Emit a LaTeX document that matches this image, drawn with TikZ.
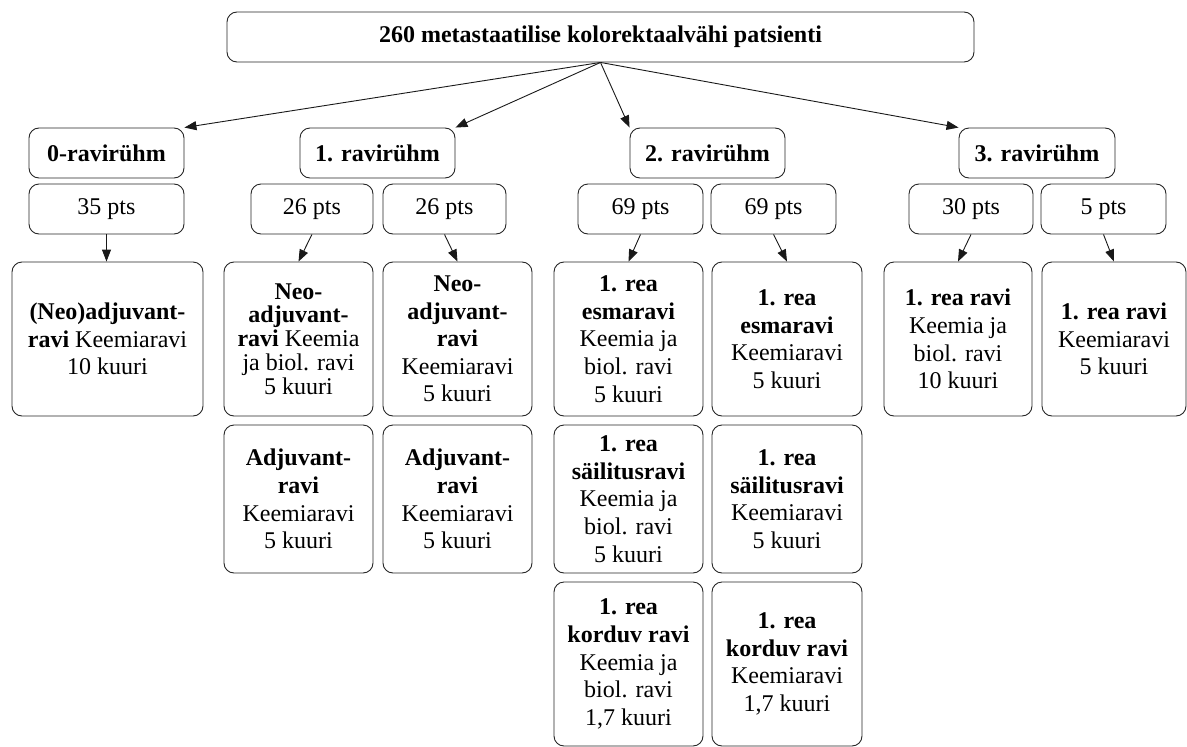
\documentclass[tikz,border=0pt]{standalone}
\usepackage{fontspec}
\setmainfont{Liberation Serif}
\usetikzlibrary{arrows.meta}
\tikzset{
  box/.style={draw=black!85, line width=0.9pt, rounded corners=10pt, align=center,
    inner sep=0pt, font=\fontsize{24}{27.6}\selectfont},
  conn/.style={draw=black!90, line width=0.9pt, -{Triangle[length=12pt,width=9pt]}},
  tight/.style={font=\fontsize{24}{23.8}\selectfont}
}
\begin{document}
\begin{tikzpicture}[x=1pt,y=-1pt]
\useasboundingbox (0,0) rectangle (1187,747);
% top
\node[box, minimum width=747pt, minimum height=50pt] (top) at (600.5,37)
  {\textbf{260 metastaatilise kolorektaalvähi patsienti}};
% groups
\node[box, minimum width=155pt, minimum height=50pt] (g0) at (106.5,153) {\textbf{0-ravirühm}};
\node[box, minimum width=155pt, minimum height=50pt] (g1) at (377.5,153) {\textbf{1. ravirühm}};
\node[box, minimum width=155pt, minimum height=50pt] (g2) at (707.5,153) {\textbf{2. ravirühm}};
\node[box, minimum width=156pt, minimum height=50pt] (g3) at (1037,153) {\textbf{3. ravirühm}};
% patient counts
\node[box, minimum width=155pt, minimum height=50pt] (p0) at (106.5,209) {35 pts};
\node[box, minimum width=122pt, minimum height=50pt] (p1a) at (312,209) {26 pts};
\node[box, minimum width=123pt, minimum height=50pt] (p1b) at (444.5,209) {26 pts};
\node[box, minimum width=125pt, minimum height=50pt] (p2a) at (640.5,209) {69 pts};
\node[box, minimum width=125pt, minimum height=50pt] (p2b) at (773.5,209) {69 pts};
\node[box, minimum width=124pt, minimum height=50pt] (p3a) at (971,209) {30 pts};
\node[box, minimum width=125pt, minimum height=50pt] (p3b) at (1103.5,209) {5 pts};
% row 1
\node[box, minimum width=191pt, minimum height=154pt] (c0) at (107.5,339)
  {\textbf{(Neo)adjuvant-}\\\textbf{ravi} Keemiaravi\\10 kuuri};
\node[box, tight, minimum width=149pt, minimum height=154pt] (c1a) at (298.5,339)
  {\textbf{Neo-}\\\textbf{adjuvant-}\\\textbf{ravi} Keemia\\ja biol. ravi\\5 kuuri};
\node[box, minimum width=149pt, minimum height=154pt] (c1b) at (457.5,339)
  {\textbf{Neo-}\\\textbf{adjuvant-}\\\textbf{ravi}\\Keemiaravi\\5 kuuri};
\node[box, minimum width=149pt, minimum height=154pt] (c2a) at (628.5,339)
  {\textbf{1. rea}\\\textbf{esmaravi}\\Keemia ja\\biol. ravi\\5 kuuri};
\node[box, minimum width=150pt, minimum height=154pt] (c2b) at (787,339)
  {\textbf{1. rea}\\\textbf{esmaravi}\\Keemiaravi\\5 kuuri};
\node[box, minimum width=148pt, minimum height=154pt] (c3a) at (958,339)
  {\textbf{1. rea ravi}\\Keemia ja\\biol. ravi\\10 kuuri};
\node[box, minimum width=144pt, minimum height=154pt] (c3b) at (1114,339)
  {\textbf{1. rea ravi}\\Keemiaravi\\5 kuuri};
% row 2
\node[box, minimum width=149pt, minimum height=148pt] (d1a) at (298.5,499)
  {\textbf{Adjuvant-}\\\textbf{ravi}\\Keemiaravi\\5 kuuri};
\node[box, minimum width=149pt, minimum height=148pt] (d1b) at (457.5,499)
  {\textbf{Adjuvant-}\\\textbf{ravi}\\Keemiaravi\\5 kuuri};
\node[box, minimum width=149pt, minimum height=148pt] (d2a) at (628.5,499)
  {\textbf{1. rea}\\\textbf{säilitusravi}\\Keemia ja\\biol. ravi\\5 kuuri};
\node[box, minimum width=150pt, minimum height=148pt] (d2b) at (787,499)
  {\textbf{1. rea}\\\textbf{säilitusravi}\\Keemiaravi\\5 kuuri};
% row 3
\node[box, minimum width=149pt, minimum height=164pt] (e2a) at (628.5,664)
  {\textbf{1. rea}\\\textbf{korduv ravi}\\Keemia ja\\biol. ravi\\1,7 kuuri};
\node[box, minimum width=150pt, minimum height=164pt] (e2b) at (787,664)
  {\textbf{1. rea}\\\textbf{korduv ravi}\\Keemiaravi\\1,7 kuuri};
% connectors
\draw[conn] (top.south) -- (g0.north east);
\draw[conn] (top.south) -- (g1.north east);
\draw[conn] (top.south) -- (g2.north west);
\draw[conn] (top.south) -- (g3.north west);
\draw[conn] (p0.south) -- (p0.south |- c0.north);
\draw[conn] (p1a.south) -- (c1a.north);
\draw[conn] (p1b.south) -- (c1b.north);
\draw[conn] (p2a.south) -- (c2a.north);
\draw[conn] (p2b.south) -- (c2b.north);
\draw[conn] (p3a.south) -- (c3a.north);
\draw[conn] (p3b.south) -- (c3b.north);
\end{tikzpicture}
\end{document}
